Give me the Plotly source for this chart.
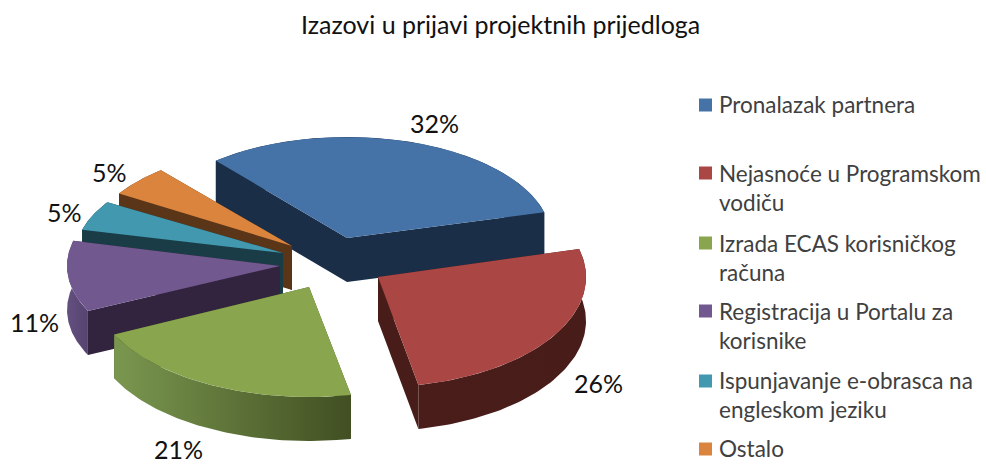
import numpy as np
import plotly.graph_objects as go

title = "Izazovi u prijavi projektnih prijedloga"
categories = ["Pronalazak partnera", "Nejasnoće u Programskom<br>vodiču", "Izrada ECAS korisničkog<br>računa",
              "Registracija u Portalu za<br>korisnike", "Ispunjavanje e-obrasca na<br>engleskom jeziku", "Ostalo"]
values = [32, 26, 21, 11, 5, 5]

# style
top_colors = ["#4572A7", "#AA4643", "#89A54E", "#71588F", "#4198AF", "#DB843D"]
wall_colors = ["#1A2E47", "#471C19", "#414F22", "#32233E", "#1A3C46", "#5A3517"]
outer_left = ["#1A2E47", "#4A1D1A", "#7A974F", "#64507F", "#1A3C46", "#5A3517"]
outer_right = ["#1A2E47", "#471C19", "#414F22", "#564370", "#1A3C46", "#5A3517"]

# projection of the exploded pie (page pixels)
apex_x = [347, 378, 309, 280, 283, 292]
apex_y = [238, 277, 287, 266, 253, 246]
rad_x = [204, 208, 216, 213, 207, 204]
rad_y = [101, 110, 110, 104, 96, 99]
depth = 44
start_angle = -40
draw_order = [0, 5, 4, 3, 2, 1]

label_x = [434, 598, 178, 34, 64, 109]
label_y = [123, 383, 449, 322, 212, 172]
legend_x = 705.5
legend_y = [105, 173, 243, 311, 381, 449]
text_y = [104, 187.5, 257.5, 325.5, 395, 448]

fig = go.Figure()
edges = start_angle + np.cumsum([0] + values) * 3.6


def poly(xs, ys, **kw):
    fig.add_trace(go.Scatter(x=xs, y=ys, mode="lines", fill="toself", line=dict(width=0),
                             hoverinfo="skip", showlegend=False, **kw))


for i in draw_order:
    t = np.radians(np.linspace(edges[i], edges[i + 1], 80))
    ax, ay = apex_x[i], apex_y[i]
    ex = ax + rad_x[i] * np.sin(t)
    ey = ay - rad_y[i] * np.cos(t)
    # radial walls
    for k in (0, -1):
        poly([ax, ex[k], ex[k], ax, ax], [ay, ey[k], ey[k] + depth, ay + depth, ay], fillcolor=wall_colors[i])
    # outer wall
    poly(np.r_[ex, ex[::-1], ex[0]], np.r_[ey, ey[::-1] + depth, ey[0]], fillcolor=wall_colors[i],
         fillgradient=dict(type="horizontal", colorscale=[[0, outer_left[i]], [1, outer_right[i]]]))
    # top face
    poly(np.r_[ax, ex, ax], np.r_[ay, ey, ay], fillcolor=top_colors[i])

# legend keys
fig.add_trace(go.Scatter(x=[legend_x] * len(categories), y=legend_y, mode="markers", hoverinfo="skip",
                         showlegend=False,
                         marker=dict(symbol="square", size=13, color=top_colors, line=dict(width=0))))

ann = []
for x, y, v in zip(label_x, label_y, values):
    ann.append(dict(x=x, y=y, text=f"{v}%", showarrow=False, xanchor="center", yanchor="middle",
                    font=dict(size=25, color="#111111")))
for y, c in zip(text_y, categories):
    ann.append(dict(x=717, y=y, text=c, showarrow=False, xanchor="left", yanchor="middle", align="left",
                    font=dict(size=22.5, color="#404040")))
ann.append(dict(x=500, y=24, text=title, showarrow=False, xanchor="center", yanchor="middle",
                font=dict(size=25, color="#111111")))

fig.update_layout(
    width=986, height=464, margin=dict(l=0, r=0, t=0, b=0),
    paper_bgcolor="white", plot_bgcolor="white", font=dict(family="Lato"),
    xaxis=dict(range=[0, 986], visible=False, fixedrange=True),
    yaxis=dict(range=[464, 0], visible=False, fixedrange=True),
    annotations=ann,
)
fig.write_html("out.html", config=dict(displayModeBar=False),
               post_script="document.body.style.margin='0';document.body.style.overflow='hidden';")
